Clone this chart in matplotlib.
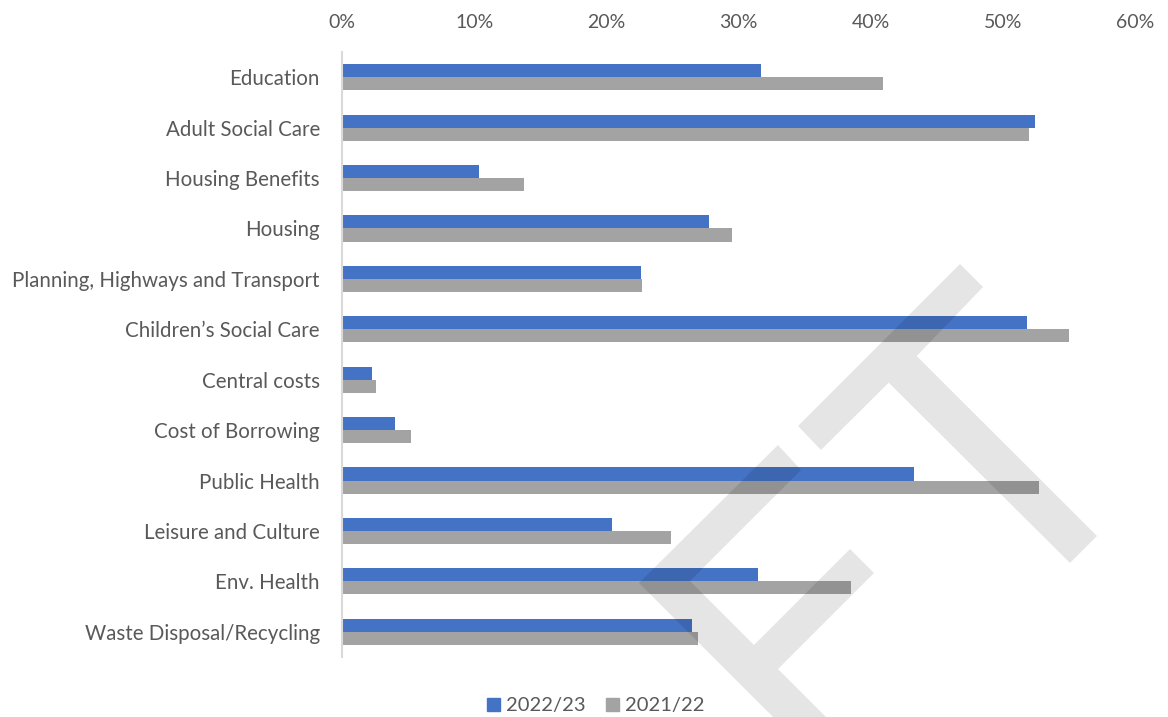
import matplotlib
matplotlib.use("Agg")
import matplotlib.pyplot as plt
from matplotlib.patches import Patch, Polygon
import numpy as np

categories = ["Education", "Adult Social Care", "Housing Benefits", "Housing",
              "Planning, Highways and Transport", "Children\u2019s Social Care",
              "Central costs", "Cost of Borrowing", "Public Health",
              "Leisure and Culture", "Env. Health", "Waste Disposal/Recycling"]
values_2022_23 = [31.7, 52.4, 10.4, 27.8, 22.6, 51.8, 2.3, 4.0, 43.3, 20.4, 31.5, 26.5]
values_2021_22 = [40.9, 52.0, 13.8, 29.5, 22.7, 55.0, 2.6, 5.2, 52.7, 24.9, 38.5, 26.9]
xticks = [0, 10, 20, 30, 40, 50, 60]
series_labels = ["2022/23", "2021/22"]

plt.rcParams['font.family'] = ['Lato', 'DejaVu Sans']
W, H = 1168, 717
fig = plt.figure(figsize=(W / 100, H / 100), dpi=100)
ax = fig.add_axes([342 / W, 1 - 657 / H, (1135 - 342) / W, (657 - 52) / H])

blue = "#4472C4"
gray = "#A3A3A3"
text_col = "#595959"

y = np.arange(len(categories))
h = 0.26
ax.barh(y - h / 2, values_2022_23, height=h, color=blue, label=series_labels[0])
ax.barh(y + h / 2, values_2021_22, height=h, color=gray, label=series_labels[1])

ax.set_xlim(0, 60)
ax.set_ylim(len(categories) - 0.5, -0.5)
ax.set_yticks(y)
ax.set_yticklabels(categories, fontsize=14.8, color=text_col)
ax.set_xticks(xticks)
ax.set_xticklabels([f"{t}%" for t in xticks], fontsize=14, color=text_col)
ax.xaxis.tick_top()
ax.tick_params(axis='both', length=0)
ax.tick_params(axis='x', pad=15)
ax.tick_params(axis='y', pad=16)
for s in ["top", "right", "bottom"]:
    ax.spines[s].set_visible(False)
ax.spines["left"].set_color("#D9D9D9")
ax.spines["left"].set_linewidth(1.5)

handles = [Patch(color=blue), Patch(color=gray)]
fig.legend(handles, series_labels, loc="center", bbox_to_anchor=(596 / W, 1 - 706 / H),
           ncol=2, frameon=False, fontsize=14.5, labelcolor=text_col,
           handlelength=0.65, handleheight=0.65, handletextpad=0.3, columnspacing=1.0)

# decorative watermark (pixel outline, converted to figure fraction)
def shape(pts):
    xy = [(px / W, 1 - py / H) for px, py in pts]
    fig.add_artist(Polygon(xy, closed=True, transform=fig.transFigure,
                           facecolor="black", edgecolor="none", alpha=0.1, zorder=5))

shape([(960, 264), (983, 287), (916.7, 356), (1097, 536), (1070, 563),
       (888.7, 382.7), (821, 450), (798, 426)])
shape([(778, 445), (801, 470), (690, 581), (754, 645), (850, 549), (874, 573),
       (778, 669), (849, 740), (796, 740), (639, 583)])

fig.savefig("out.png", dpi=100)
